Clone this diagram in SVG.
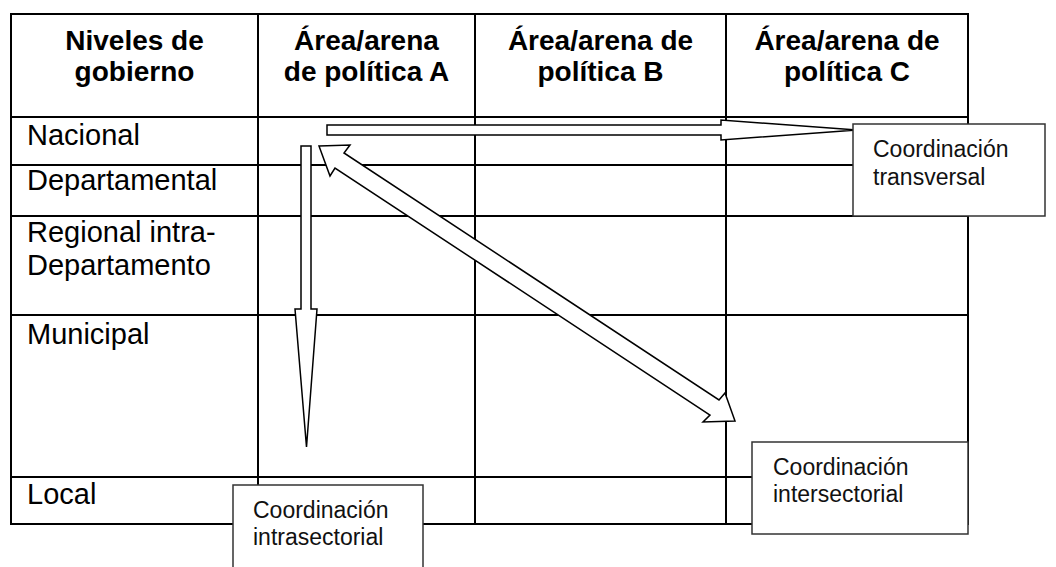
<svg xmlns="http://www.w3.org/2000/svg" width="1056" height="567" viewBox="0 0 1056 567">
<style>
.grid{stroke:#000;stroke-width:2;fill:none}
.hd{font-family:"Liberation Sans",Arial,sans-serif;font-weight:bold;font-size:28px;fill:#000;text-anchor:middle}
.lb{font-family:"Liberation Sans",Arial,sans-serif;font-size:29px;fill:#000}
.bx{fill:#fff;stroke:#333;stroke-width:1.5}
.bt{font-family:"Liberation Sans",Arial,sans-serif;font-size:23px;fill:#111}
.ar{fill:#fff;stroke:#000;stroke-width:1.5;stroke-linejoin:miter}
</style>
<rect width="1056" height="567" fill="#fff"/>
<g id="table">
<rect class="grid" x="11" y="14" width="957" height="510"/>
<line class="grid" x1="258" y1="14" x2="258" y2="524"/>
<line class="grid" x1="475" y1="14" x2="475" y2="524"/>
<line class="grid" x1="726" y1="14" x2="726" y2="524"/>
<line class="grid" x1="11" y1="117" x2="968" y2="117"/>
<line class="grid" x1="11" y1="165" x2="968" y2="165"/>
<line class="grid" x1="11" y1="216" x2="968" y2="216"/>
<line class="grid" x1="11" y1="315" x2="968" y2="315"/>
<line class="grid" x1="11" y1="477" x2="968" y2="477"/>
</g>
<g id="headers">
<text class="hd" x="134.5" y="50">Niveles de</text>
<text class="hd" x="134.5" y="81">gobierno</text>
<text class="hd" x="366.5" y="50">Área/arena</text>
<text class="hd" x="366.5" y="81">de política A</text>
<text class="hd" x="600.5" y="50">Área/arena de</text>
<text class="hd" x="600.5" y="81">política B</text>
<text class="hd" x="847" y="50">Área/arena de</text>
<text class="hd" x="847" y="81">política C</text>
</g>
<g id="levels">
<text class="lb" x="27" y="145">Nacional</text>
<text class="lb" x="27" y="190">Departamental</text>
<text class="lb" x="27" y="242">Regional intra-</text>
<text class="lb" x="27" y="275">Departamento</text>
<text class="lb" x="27" y="344">Municipal</text>
<text class="lb" x="27" y="504">Local</text>
</g>
<g id="connectors">
<polygon id="arrow-transversal" class="ar" points="327,125 721,125 721,120 857,130 721,140 721,135 327,135"/>
<polygon id="arrow-intrasectorial" class="ar" points="301,146 311,146 311,309 317,309 306.5,447 295,309 301,309"/>
<polygon id="arrow-intersectorial" class="ar" points="319,146 350,145 344,153 719,400 725,393 735,421 703,422 710,415 335,168 330,176"/>
</g>
<g id="box-transversal">
<rect class="bx" x="853" y="124" width="192" height="92"/>
<text class="bt" x="873" y="157">Coordinación</text>
<text class="bt" x="873" y="185">transversal</text>
</g>
<g id="box-intersectorial">
<rect class="bx" x="752" y="442" width="216" height="92"/>
<text class="bt" x="773" y="475">Coordinación</text>
<text class="bt" x="773" y="502">intersectorial</text>
</g>
<g id="box-intrasectorial">
<rect class="bx" x="233" y="485" width="190" height="92"/>
<text class="bt" x="253" y="518">Coordinación</text>
<text class="bt" x="253" y="545">intrasectorial</text>
</g>
</svg>
